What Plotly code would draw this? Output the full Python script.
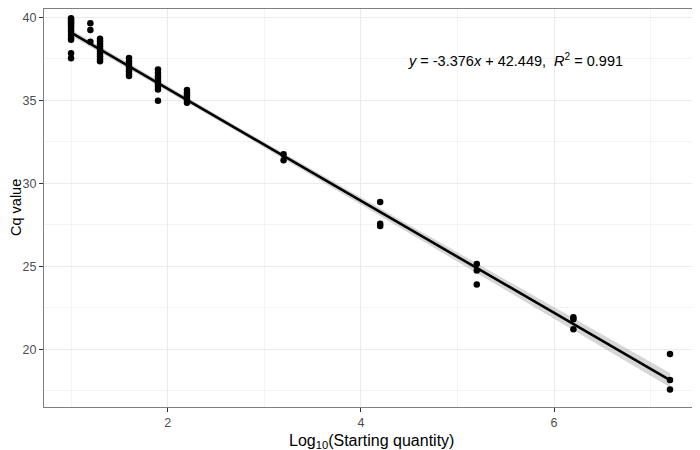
import numpy as np
import plotly.graph_objects as go

# log10 starting quantity per dilution group and the Cq values measured there
group_x = [1.0, 1.2, 1.3, 1.6, 1.9, 2.2, 3.2, 4.2, 5.2, 6.2, 7.2]
group_cq = [
    [39.94, 39.85, 39.75, 39.65, 39.55, 39.45, 39.3, 39.15, 38.95, 38.75, 38.65, 37.83, 37.53],
    [39.64, 39.23, 38.53],
    [38.7, 38.55, 38.4, 38.25, 38.1, 37.95, 37.8, 37.65, 37.5, 37.35],
    [37.55, 37.35, 37.2, 37.05, 36.9, 36.75, 36.6, 36.47],
    [36.85, 36.65, 36.45, 36.3, 36.15, 36.0, 35.85, 35.65, 34.97],
    [35.62, 35.45, 35.3, 35.15, 35.0, 34.85],
    [31.75, 31.39],
    [28.87, 27.56, 27.42],
    [25.14, 24.74, 23.9],
    [21.93, 21.8, 21.2],
    [19.72, 18.15, 17.57],
]
slope = -3.376
intercept = 42.449
r2 = 0.991

x_tick_vals = [2, 4, 6]
y_tick_vals = [20, 25, 30, 35, 40]

xs = np.array([gx for gx, cqs in zip(group_x, group_cq) for _ in cqs])
ys = np.array([c for cqs in group_cq for c in cqs])

# fitted line + 95% confidence band
n = len(xs)
xl = np.linspace(xs.min(), xs.max(), 80)
yl = intercept + slope * xl
resid = ys - (intercept + slope * xs)
s = np.sqrt((resid ** 2).sum() / (n - 2))
sxx = ((xs - xs.mean()) ** 2).sum()
se = s * np.sqrt(1 / n + (xl - xs.mean()) ** 2 / sxx)
t = 1.995
lo, hi = yl - t * se, yl + t * se

fig = go.Figure()
fig.add_trace(go.Scatter(x=np.concatenate([xl, xl[::-1]]), y=np.concatenate([hi, lo[::-1]]),
                         fill='toself', fillcolor='rgba(153,153,153,0.4)', line=dict(width=0),
                         hoverinfo='skip', showlegend=False))
fig.add_trace(go.Scatter(x=xs, y=ys, mode='markers',
                         marker=dict(color='black', size=6.5), showlegend=False))
fig.add_trace(go.Scatter(x=xl, y=yl, mode='lines',
                         line=dict(color='black', width=2.6), showlegend=False))

fig.add_annotation(x=5.6, y=37.45, xref='x', yref='y', showarrow=False,
                   xanchor='center', yanchor='middle',
                   text=f'<i>y</i> = {slope}<i>x</i> + {intercept},  <i>R</i><sup>2</sup> = {r2}',
                   font=dict(size=14.5, color='black'))

# axis titles placed by hand (ggplot-like spacing)
fig.add_annotation(x=0.5, y=0, xref='paper', yref='paper', yshift=-34, showarrow=False,
                   xanchor='center', yanchor='middle',
                   text='Log<sub>10</sub>(Starting quantity)', font=dict(size=16, color='black'))
fig.add_annotation(x=0, y=0.5, xref='paper', yref='paper', xshift=-28, showarrow=False,
                   xanchor='center', yanchor='middle',
                   textangle=-90, text='Cq value', font=dict(size=14.5, color='black'))

grid = '#ebebeb'
axis_common = dict(showline=True, linecolor='#7f7f7f', linewidth=1, mirror=True,
                   gridcolor=grid, gridwidth=1, zeroline=False, automargin=False,
                   ticks='outside', ticklen=4, tickcolor='#333333', tickwidth=1,
                   tickfont=dict(size=12.5, color='#4d4d4d'))

fig.update_xaxes(range=[0.72, 7.49], tickvals=x_tick_vals, **axis_common)
fig.update_xaxes(minor=dict(tickvals=[1, 3, 5, 7], ticks='', showgrid=True,
                            gridcolor='#f3f3f3', gridwidth=0.6))
fig.update_yaxes(range=[16.52, 40.50], tickvals=y_tick_vals, **axis_common)
fig.update_yaxes(minor=dict(tickvals=[17.5, 22.5, 27.5, 32.5, 37.5], ticks='', showgrid=True,
                            gridcolor='#f3f3f3', gridwidth=0.6))

fig.update_layout(width=700, height=450, margin=dict(l=36, r=10, t=1, b=51, autoexpand=False),
                  plot_bgcolor='white', paper_bgcolor='white',
                  font=dict(family='Liberation Sans, Arial'))

fig.write_html("out.html")
